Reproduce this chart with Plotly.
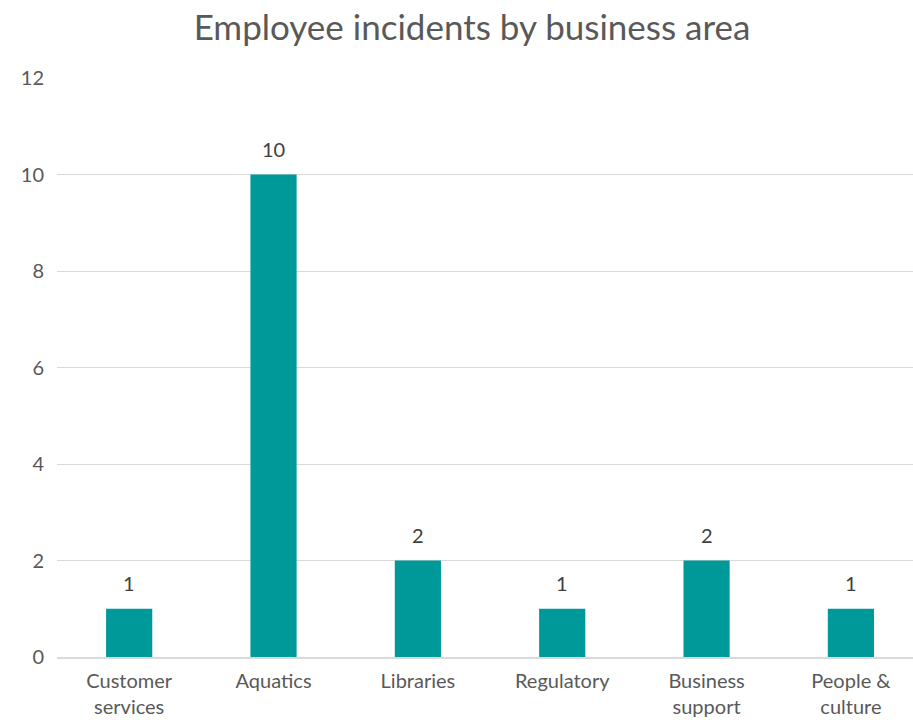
import plotly.graph_objects as go

# Incident counts per business area
categories = ["Customer<br>services", "Aquatics", "Libraries", "Regulatory",
              "Business<br>support", "People &<br>culture"]
incidents = [1, 10, 2, 1, 2, 1]
y_ticks = [0, 2, 4, 6, 8, 10, 12]

BAR = "#009999"
TEXT = "#595959"
LABEL = "#404040"
GRID = "#d9d9d9"
FONT = "Lato"

xs = list(range(len(categories)))

fig = go.Figure(
    go.Bar(
        x=xs,
        y=incidents,
        marker=dict(color=BAR, line=dict(width=0)),
        width=0.32,
        hoverinfo="x+y",
    )
)

# value labels floating above each bar
for xi, v in zip(xs, incidents):
    fig.add_annotation(
        x=xi, y=v, text=str(v), showarrow=False,
        yanchor="bottom", yshift=12,
        font=dict(family=FONT, size=20, color=LABEL),
    )

fig.update_layout(
    width=913,
    height=720,
    margin=dict(l=57, r=0, t=78, b=63),
    paper_bgcolor="white",
    plot_bgcolor="white",
    showlegend=False,
    title=dict(
        text="Employee incidents by business area",
        x=0.517, xanchor="center",
        y=0.961, yanchor="middle",
        font=dict(family=FONT, size=35, color=TEXT),
    ),
    font=dict(family=FONT, size=20, color=TEXT),
)

fig.update_xaxes(
    tickmode="array",
    tickvals=xs,
    ticktext=categories,
    range=[-0.5, 5.43],
    automargin=False,
    showgrid=False,
    showline=True,
    linecolor=GRID,
    linewidth=1.5,
    ticks="",
    ticklabelstandoff=5,
    tickfont=dict(family=FONT, size=20, color=TEXT),
)

fig.update_yaxes(
    range=[0, 12],
    tickvals=y_ticks,
    automargin=False,
    showgrid=True,
    gridcolor=GRID,
    gridwidth=1,
    zeroline=False,
    showline=False,
    ticks="",
    ticklabelstandoff=12,
    tickfont=dict(family=FONT, size=20, color=TEXT),
)

fig.write_html("out.html")
